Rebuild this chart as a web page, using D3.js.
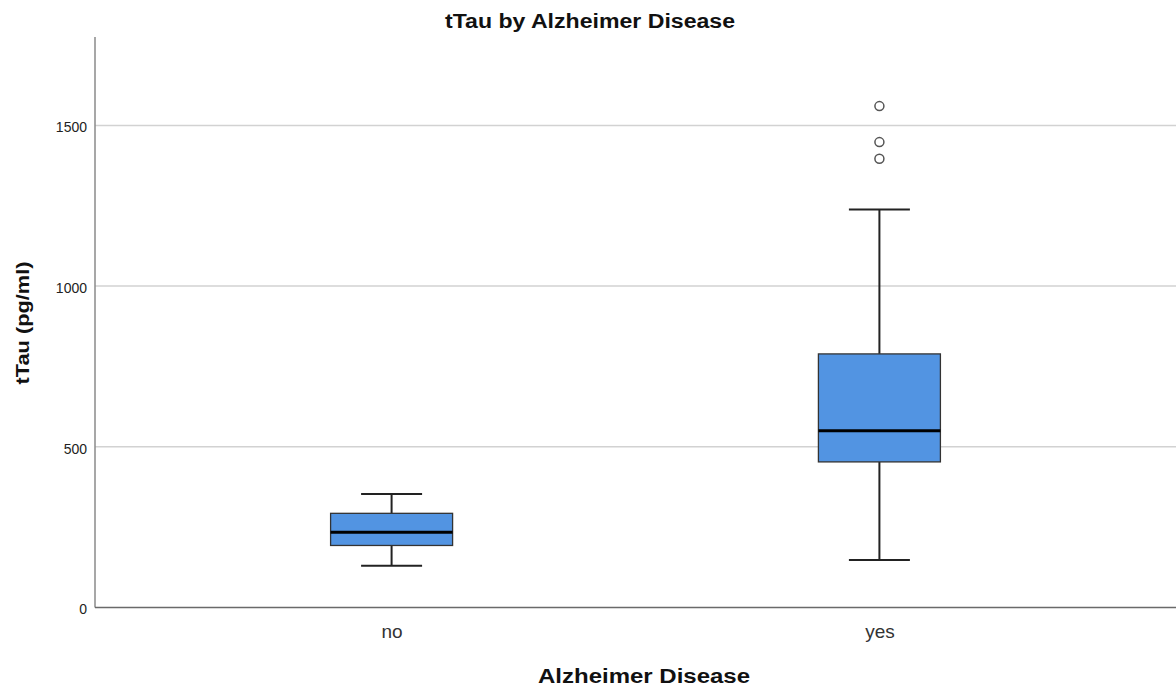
<!DOCTYPE html>
<html>
<head>
<meta charset="utf-8">
<script src="https://cdn.jsdelivr.net/npm/d3@7"></script>
<style>
  html, body { margin: 0; padding: 0; background: #fff; }
  svg { display: block; font-family: "Liberation Sans", Arial, sans-serif; }
</style>
</head>
<body>
<svg id="chart" width="1176" height="689"></svg>
<script>
// Groups and their five-number summaries (tTau, pg/ml)
const categories = ["no", "yes"];
const whiskerLow = [130, 148];
const q1 = [193, 453];
const median = [234, 550];
const q3 = [293, 789];
const whiskerHigh = [353, 1238];
const outliers = [[], [1396, 1448, 1560]];
const yTicks = [0, 500, 1000, 1500];

const plotLeft = 95, plotRight = 1176, plotTop = 37, plotBottom = 607.5;

const svg = d3.select("#chart");

const x = d3.scalePoint().domain(categories).range([plotLeft, plotRight]).padding(0.608);
const y = d3.scaleLinear().domain([0, 1775]).range([plotBottom, plotTop]);
const boxW = 122;

// Horizontal gridlines
svg.append("g").selectAll("line").data(yTicks.filter(d => d > 0)).join("line")
  .attr("x1", plotLeft).attr("x2", plotRight)
  .attr("y1", d => y(d)).attr("y2", d => y(d))
  .attr("stroke", "#d2d2d2").attr("stroke-width", 1.5);

// Y axis
const yAxis = svg.append("g").attr("transform", `translate(${plotLeft},0)`)
  .call(d3.axisLeft(y).tickValues(yTicks).tickFormat(d3.format("d")).tickSize(0).tickPadding(8));
yAxis.select(".domain").remove();
yAxis.selectAll("text").attr("font-size", 14).attr("fill", "#222").attr("dy", "0.45em")
  .attr("font-family", "'Liberation Sans', Arial, sans-serif");
svg.append("line").attr("x1", plotLeft).attr("x2", plotLeft).attr("y1", plotTop).attr("y2", plotBottom)
  .attr("stroke", "#8a8a8a").attr("stroke-width", 1.5);

// X axis
const xAxis = svg.append("g").attr("transform", `translate(0,${plotBottom})`)
  .call(d3.axisBottom(x).tickSize(0).tickPadding(17));
xAxis.select(".domain").remove();
xAxis.selectAll("text").attr("font-size", 19).attr("fill", "#333")
  .attr("font-family", "'Liberation Sans', Arial, sans-serif");
svg.append("line").attr("x1", plotLeft).attr("x2", plotRight).attr("y1", plotBottom).attr("y2", plotBottom)
  .attr("stroke", "#6a6a6a").attr("stroke-width", 1.5);

// Box plots
const groups = svg.append("g").selectAll("g").data(categories).join("g");
groups.each(function(c, i) {
  const g = d3.select(this);
  const cx = x(c);
  // whisker stems
  g.append("line").attr("x1", cx).attr("x2", cx)
    .attr("y1", y(q3[i])).attr("y2", y(whiskerHigh[i]))
    .attr("stroke", "#222").attr("stroke-width", 2);
  g.append("line").attr("x1", cx).attr("x2", cx)
    .attr("y1", y(q1[i])).attr("y2", y(whiskerLow[i]))
    .attr("stroke", "#222").attr("stroke-width", 2);
  // whisker caps
  [whiskerHigh[i], whiskerLow[i]].forEach(v => {
    g.append("line").attr("x1", cx - boxW / 4).attr("x2", cx + boxW / 4)
      .attr("y1", y(v)).attr("y2", y(v))
      .attr("stroke", "#222").attr("stroke-width", 2);
  });
  // box
  g.append("rect").attr("x", cx - boxW / 2).attr("width", boxW)
    .attr("y", y(q3[i])).attr("height", y(q1[i]) - y(q3[i]))
    .attr("fill", "#5294e2").attr("stroke", "#333").attr("stroke-width", 1.3);
  // median
  g.append("line").attr("x1", cx - boxW / 2).attr("x2", cx + boxW / 2)
    .attr("y1", y(median[i])).attr("y2", y(median[i]))
    .attr("stroke", "#000").attr("stroke-width", 3);
  // outliers
  g.selectAll("circle").data(outliers[i]).join("circle")
    .attr("cx", cx).attr("cy", d => y(d)).attr("r", 4.5)
    .attr("fill", "#fff").attr("stroke", "#555").attr("stroke-width", 1.5);
});

// Titles
svg.append("text").attr("x", 590).attr("y", 28).attr("text-anchor", "middle")
  .attr("font-size", 20).attr("font-weight", "bold").attr("fill", "#111")
  .attr("textLength", 290).attr("lengthAdjust", "spacingAndGlyphs")
  .text("tTau by Alzheimer Disease");
svg.append("text").attr("x", 644).attr("y", 683).attr("text-anchor", "middle")
  .attr("font-size", 20).attr("font-weight", "bold").attr("fill", "#111")
  .attr("textLength", 212).attr("lengthAdjust", "spacingAndGlyphs")
  .text("Alzheimer Disease");
svg.append("text").attr("transform", "translate(29,323) rotate(-90)")
  .attr("text-anchor", "middle")
  .attr("font-size", 19).attr("font-weight", "bold").attr("fill", "#111")
  .attr("textLength", 123).attr("lengthAdjust", "spacingAndGlyphs")
  .text("tTau (pg/ml)");
</script>
</body>
</html>
